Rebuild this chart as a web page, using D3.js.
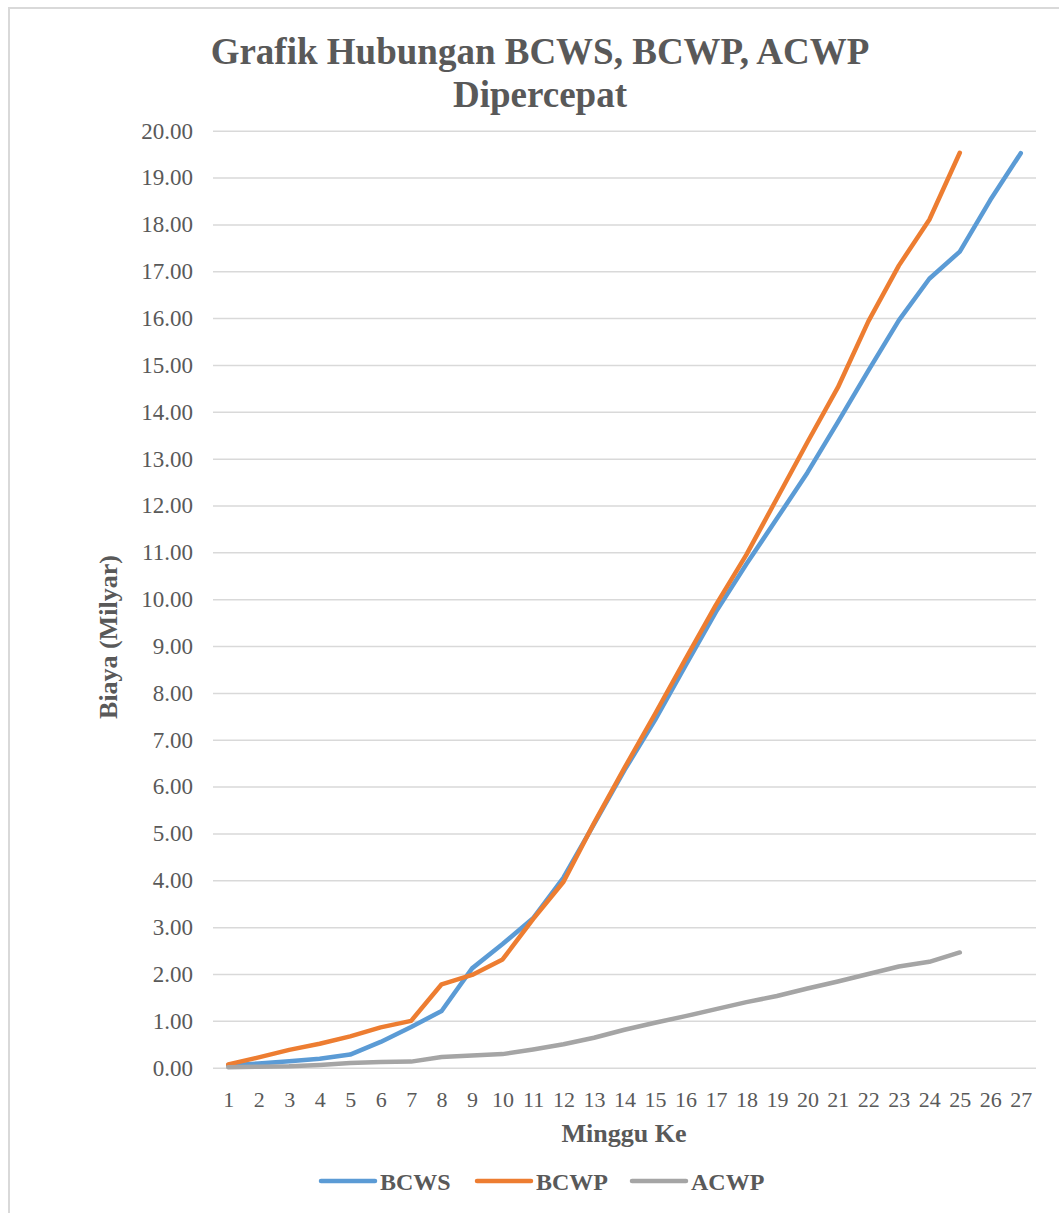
<!DOCTYPE html>
<html>
<head>
<meta charset="utf-8">
<script src="https://cdn.jsdelivr.net/npm/d3@7"></script>
<style>
  html, body { margin: 0; padding: 0; background: #fff; }
  svg { display: block; }
  text { font-family: "Liberation Serif", "Times New Roman", serif; fill: #595959; }
</style>
</head>
<body>
<script>
// Weekly cumulative cost (billion Rupiah), accelerated schedule
const weeks = d3.range(1, 28).map(String);
const bcws = [0.05, 0.09, 0.14, 0.19, 0.28, 0.55, 0.87, 1.21, 2.12, 2.64, 3.19, 4.06, 5.20, 6.35,
              7.42, 8.58, 9.73, 10.75, 11.72, 12.70, 13.78, 14.88, 15.95, 16.84, 17.42, 18.52, 19.52];
const bcwp = [0.07, 0.22, 0.38, 0.51, 0.67, 0.86, 1.00, 1.78, 1.98, 2.31, 3.17, 3.97, 5.22, 6.40,
              7.55, 8.72, 9.88, 10.95, 12.15, 13.35, 14.52, 15.93, 17.12, 18.10, 19.53];
const acwp = [0.01, 0.02, 0.03, 0.06, 0.10, 0.12, 0.13, 0.23, 0.26, 0.29, 0.39, 0.50, 0.64, 0.81,
              0.96, 1.10, 1.25, 1.40, 1.53, 1.69, 1.84, 2.00, 2.16, 2.26, 2.46];
const yTicks = d3.range(0, 21);

const seriesNames = ["BCWS", "BCWP", "ACWP"];
const seriesValues = [bcws, bcwp, acwp];
const colors = ["#5b9bd5", "#ed7d31", "#a5a5a5"];

const W = 1059, H = 1213;
const plot = { left: 213, right: 1036, top: 130.7, bottom: 1067.7 };

const svg = d3.select("body").append("svg").attr("width", W).attr("height", H);

// chart frame
svg.append("rect")
  .attr("x", 9).attr("y", 8).attr("width", W + 20).attr("height", H + 20)
  .attr("fill", "#fff").attr("stroke", "#d9d9d9").attr("stroke-width", 2);

const x = d3.scalePoint().domain(weeks).range([plot.left, plot.right]).padding(0.5);
const y = d3.scaleLinear().domain([0, 20]).range([plot.bottom, plot.top]);

// horizontal gridlines + value labels
const yAxis = d3.axisLeft(y).tickValues(yTicks).tickFormat(d3.format(".2f"))
  .tickSize(-(plot.right - plot.left)).tickPadding(20);
const gy = svg.append("g").attr("transform", `translate(${plot.left},0)`).call(yAxis);
gy.select(".domain").remove();
gy.selectAll(".tick line").attr("stroke", "#d9d9d9").attr("stroke-width", 1.5);
gy.selectAll(".tick text").attr("font-size", 23).attr("fill", "#595959")
  .style("font-family", "'Liberation Serif', serif");

// category labels
const xAxis = d3.axisBottom(x).tickSize(0).tickPadding(24);
const gx = svg.append("g").attr("transform", `translate(0,${plot.bottom})`).call(xAxis);
gx.select(".domain").remove();
gx.selectAll(".tick text").attr("font-size", 22).attr("fill", "#595959")
  .style("font-family", "'Liberation Serif', serif");

// series lines
const line = d3.line().x((d, i) => x(weeks[i])).y(d => y(d));
seriesValues.forEach((vals, k) => {
  svg.append("path")
    .datum(vals)
    .attr("d", line)
    .attr("fill", "none")
    .attr("stroke", colors[k])
    .attr("stroke-width", 4.5)
    .attr("stroke-linejoin", "round")
    .attr("stroke-linecap", "round");
});

// title
const title = svg.append("text").attr("text-anchor", "middle")
  .attr("font-size", 37).attr("font-weight", "bold");
title.append("tspan").attr("x", 540).attr("y", 64).text("Grafik Hubungan BCWS, BCWP, ACWP");
title.append("tspan").attr("x", 540).attr("y", 107).text("Dipercepat");

// axis titles
svg.append("text").attr("text-anchor", "middle")
  .attr("x", 624).attr("y", 1142)
  .attr("font-size", 26).attr("font-weight", "bold")
  .text("Minggu Ke");

svg.append("text").attr("text-anchor", "middle")
  .attr("transform", "translate(117,637) rotate(-90)")
  .attr("font-size", 26).attr("font-weight", "bold")
  .text("Biaya (Milyar)");

// legend
const legendX = [321, 477, 632];
seriesNames.forEach((name, k) => {
  const g = svg.append("g").attr("transform", `translate(${legendX[k]},1181)`);
  g.append("line").attr("x1", 0).attr("x2", 54).attr("y1", 0).attr("y2", 0)
    .attr("stroke", colors[k]).attr("stroke-width", 4.5).attr("stroke-linecap", "round");
  g.append("text").attr("x", 59).attr("y", 8.5)
    .attr("font-size", 24).attr("font-weight", "bold").text(name);
});
</script>
</body>
</html>
